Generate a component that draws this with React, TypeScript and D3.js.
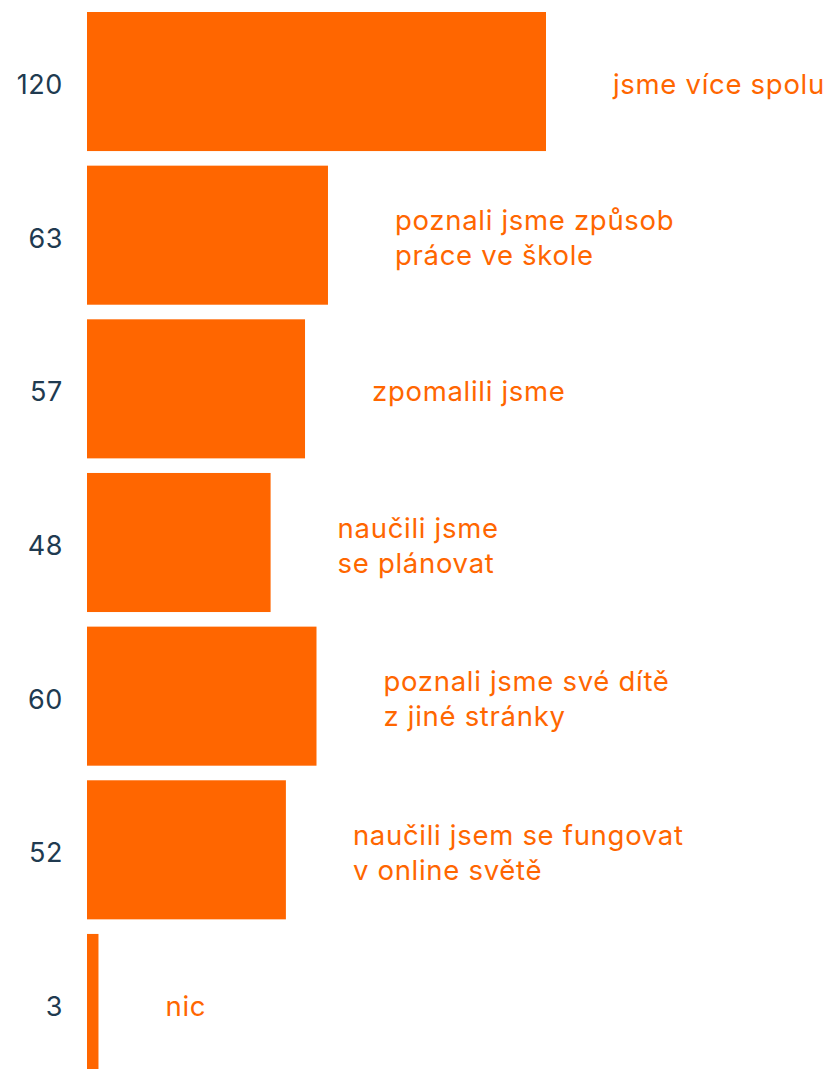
import * as d3 from "d3";

const categories = [
  ["jsme více spolu"],
  ["poznali jsme způsob", "práce ve škole"],
  ["zpomalili jsme"],
  ["naučili jsme", "se plánovat"],
  ["poznali jsme své dítě", "z jiné stránky"],
  ["naučili jsem se fungovat", "v online světě"],
  ["nic"],
];
const values = [120, 63, 57, 48, 60, 52, 3];

const width = 825;
const height = 1069;
const orange = "#ff6600";
const navy = "#203a50";
const font = "Inter, 'Noto Sans', sans-serif";

export default function App() {
  const idx = values.map((_, i) => String(i));
  const y = d3
    .scaleBand()
    .domain(idx)
    .range([12, 1073])
    .paddingInner(0.095)
    .paddingOuter(0);
  const x = d3.scaleLinear().domain([0, 120]).range([87, 546]);
  const lineH = 35;

  return (
    <svg
      width={width}
      height={height}
      style={{ position: "absolute", left: 0, top: 0 }}
    >
      {values.map((v, i) => {
        const y0 = y(String(i)) ?? 0;
        const cy = y0 + y.bandwidth() / 2;
        const lines = categories[i];
        return (
          <g key={i}>
            <rect
              x={x(0)}
              y={y0}
              width={x(v) - x(0)}
              height={y.bandwidth()}
              fill={orange}
            />
            <text
              x={63}
              y={cy + 5}
              textAnchor="end"
              dominantBaseline="middle"
              fontFamily={font}
              fontSize={27}
              letterSpacing={0.6}
              fill={navy}
            >
              {v}
            </text>
            <text
              x={x(v) + 67}
              fontFamily={font}
              fontSize={27.5}
              letterSpacing={0.7}
              fill={orange}
            >
              {lines.map((l, j) => (
                <tspan
                  key={j}
                  x={x(v) + 67}
                  y={cy + 5 + (j - (lines.length - 1) / 2) * lineH}
                  dominantBaseline="middle"
                >
                  {l}
                </tspan>
              ))}
            </text>
          </g>
        );
      })}
    </svg>
  );
}
